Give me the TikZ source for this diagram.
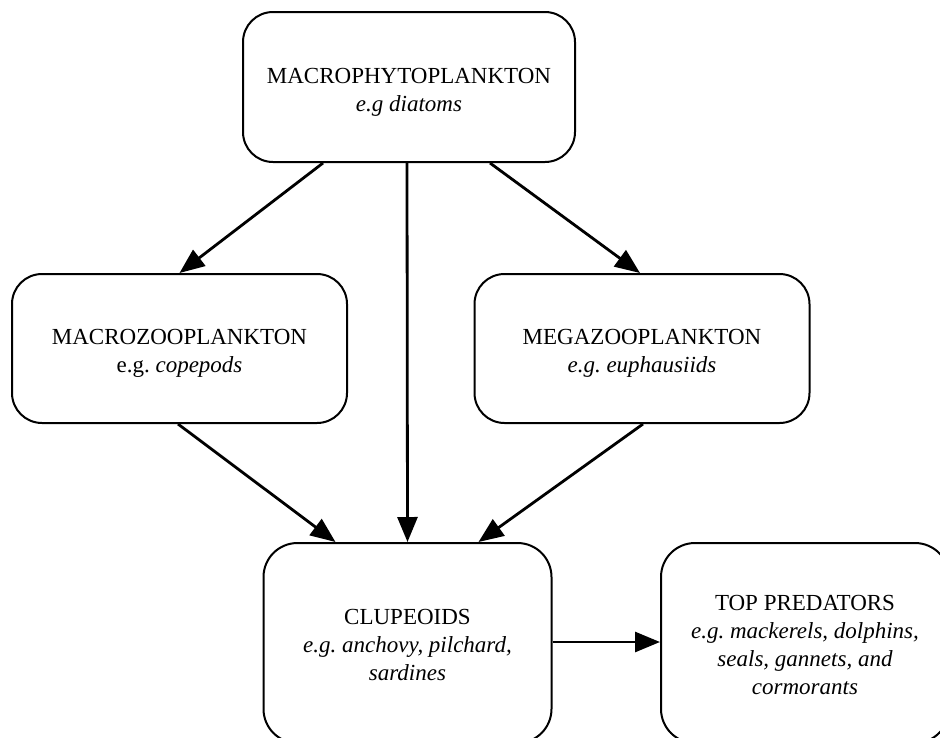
\documentclass[tikz,border=0pt]{standalone}
\usepackage{fontspec}
\setmainfont{Liberation Serif}
\usetikzlibrary{arrows.meta,calc}
\frenchspacing

\tikzset{
  taxon/.style={draw, line width=2pt, rounded corners=30pt, inner sep=0pt},
  taxtext/.style={align=center, inner sep=0pt, font=\fontsize{23}{28}\selectfont},
  midbox/.style={taxon, minimum width=335pt, minimum height=149pt},
  topbox/.style={taxon, minimum width=332pt, minimum height=150pt},
  lowbox/.style={taxon, rounded corners=34pt, minimum width=288pt, minimum height=200pt},
  feeds/.style={line width=2.8pt, -{Triangle[length=25pt, width=20pt]}},
}

\begin{document}
\begin{tikzpicture}[x=1pt, y=-1pt]
  \useasboundingbox (0,0) rectangle (940,737);
  \clip (0,0) rectangle (940,737);

  % trophic levels
  \node[topbox, label={[taxtext, yshift=-5pt]center:MACROPHYTOPLANKTON\\\textit{e.g diatoms}}]
    (phyto) at (409,87) {};
  \node[midbox, label={[taxtext, yshift=-5pt]center:MACROZOOPLANKTON\\e.g. \textit{copepods}}]
    (macro) at (179.5,348.5) {};
  \node[midbox, label={[taxtext, yshift=-5pt]center:MEGAZOOPLANKTON\\\textit{e.g. euphausiids}}]
    (mega) at (642,348.5) {};
  \node[lowbox, label={[taxtext, yshift=-2pt]center:CLUPEOIDS\\\textit{e.g. anchovy, pilchard,}\\\textit{sardines}}]
    (clupe) at (407.5,643) {};
  \node[lowbox, label={[taxtext, yshift=-2pt]center:TOP PREDATORS\\\textit{e.g. mackerels, dolphins,}\\\textit{seals, gannets, and}\\\textit{cormorants}}]
    (preds) at (805,643) {};

  % feeding links
  \draw[feeds] ($(phyto.south)+(-86,0)$) -- (macro.north);
  \draw[feeds] ($(phyto.south)+(-2,0)$) -- (clupe.north);
  \draw[feeds] ($(phyto.south)+(81,0)$) -- ($(mega.north)+(-2,0)$);
  \draw[feeds] ($(macro.south)+(-1.5,0)$) -- ($(clupe.north)+(-72,0)$);
  \draw[feeds] ($(mega.south)+(1,0)$) -- ($(clupe.north)+(71,0)$);
  \draw[feeds] ($(clupe.east)+(0,-1)$) -- ($(preds.west)+(0,-1)$);
\end{tikzpicture}
\end{document}
